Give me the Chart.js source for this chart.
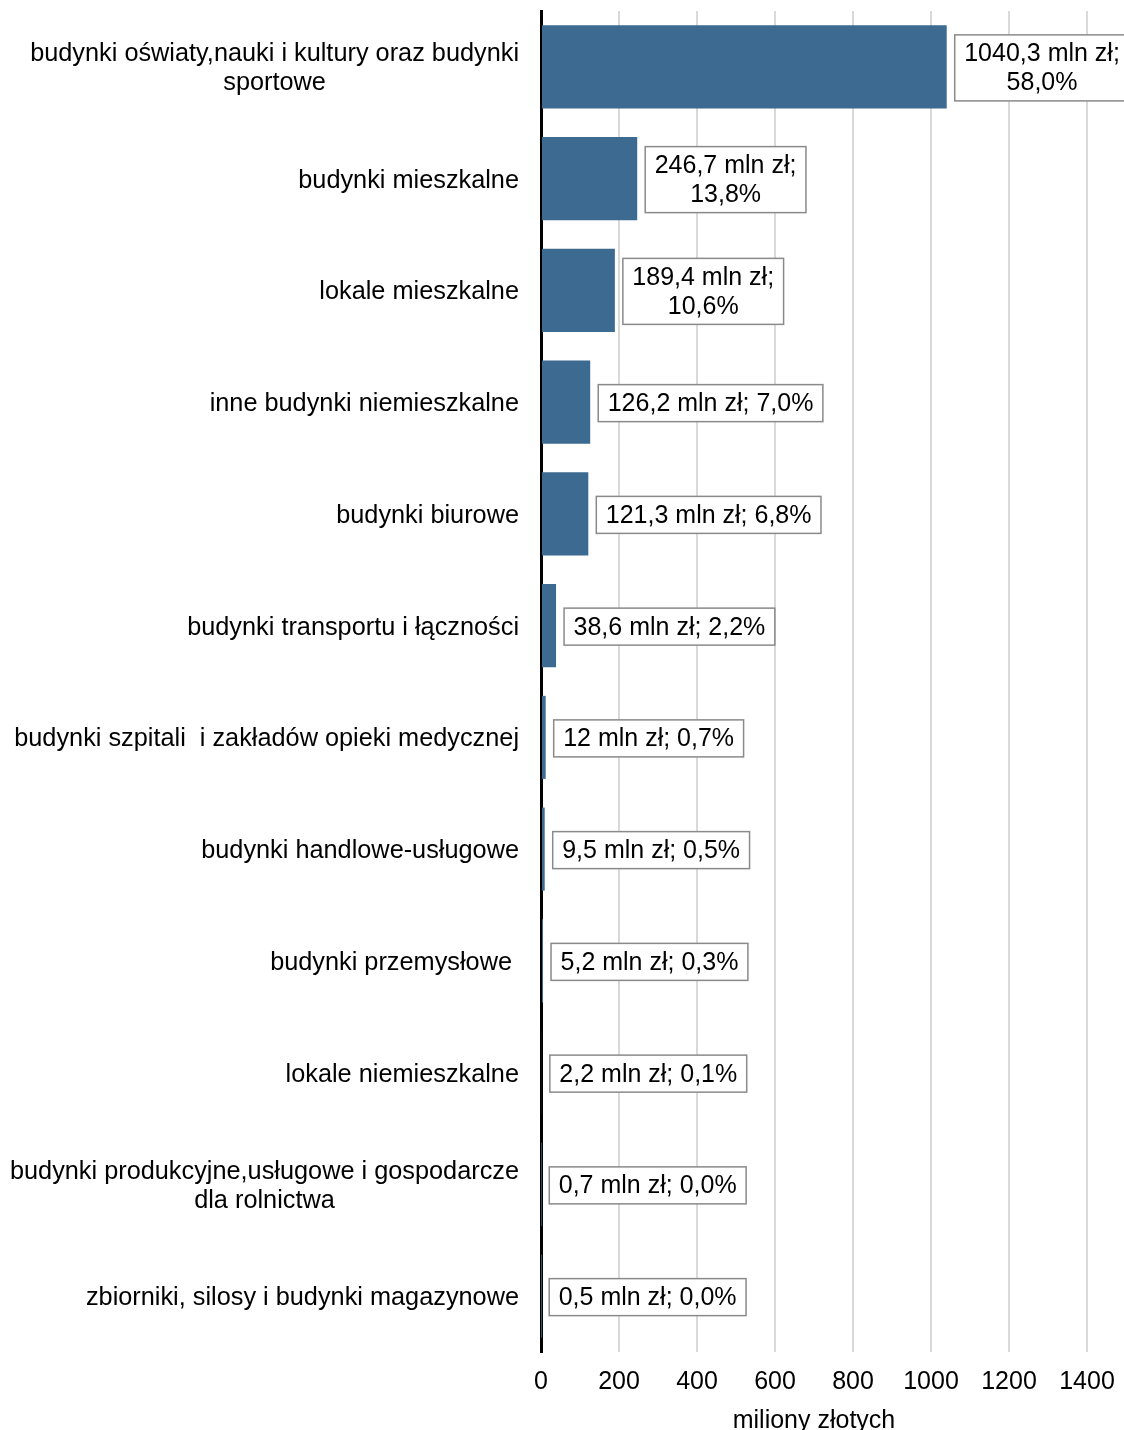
<!DOCTYPE html>
<html lang="pl">
<head>
<meta charset="utf-8">
<script src="https://cdn.jsdelivr.net/npm/chart.js@4.4.1/dist/chart.umd.min.js"></script>
<style>
  body { margin: 0; background: #fff; }
  #wrap { width: 1124px; height: 1430px; }
</style>
</head>
<body>
<div id="wrap"><canvas id="buildingsChart" width="1124" height="1430"></canvas></div>
<script>
const categories = [
    ['budynki oświaty,nauki i kultury oraz budynki', 'sportowe'],
    'budynki mieszkalne',
    'lokale mieszkalne',
    'inne budynki niemieszkalne',
    'budynki biurowe',
    'budynki transportu i łączności',
    'budynki szpitali  i zakładów opieki medycznej',
    'budynki handlowe-usługowe',
    'budynki przemysłowe ',
    'lokale niemieszkalne',
    ['budynki produkcyjne,usługowe i gospodarcze', 'dla rolnictwa'],
    'zbiorniki, silosy i budynki magazynowe'
];
const values = [1040.3, 246.7, 189.4, 126.2, 121.3, 38.6, 12, 9.5, 5.2, 2.2, 0.7, 0.5];
const shares = [58.0, 13.8, 10.6, 7.0, 6.8, 2.2, 0.7, 0.5, 0.3, 0.1, 0.0, 0.0];
const xTicks = [0, 200, 400, 600, 800, 1000, 1200, 1400];

const FONT = "'Liberation Sans', Arial, sans-serif";
const LINE_H = 29;

function labelLines(i) {
    const val = String(values[i]).replace('.', ',') + ' mln zł;';
    const pct = shares[i].toFixed(1).replace('.', ',') + '%';
    // trzy pierwsze etykiety sa zawiniete w dwie linie
    return i < 3 ? [val, pct] : [val + ' ' + pct];
}

// etykiety kategorii: blok wyrownany do prawej, linie wysrodkowane
const categoryLabels = {
    id: 'categoryLabels',
    afterDraw(chart) {
        const ctx = chart.ctx;
        const y = chart.scales.y;
        ctx.save();
        ctx.font = '25.3px ' + FONT;
        ctx.fillStyle = '#000';
        ctx.textAlign = 'center';
        ctx.textBaseline = 'middle';
        categories.forEach((c, i) => {
            const lines = Array.isArray(c) ? c : [c];
            const w = Math.max(...lines.map(l => ctx.measureText(l).width));
            const cx = 519 - w / 2;
            const cy = y.getPixelForTick(i) + 2;
            lines.forEach((l, k) => {
                ctx.fillText(l, cx, cy + (k - (lines.length - 1) / 2) * LINE_H);
            });
        });
        ctx.restore();
    }
};

// etykiety wartosci w ramkach
const valueBoxes = {
    id: 'valueBoxes',
    afterDatasetsDraw(chart) {
        const ctx = chart.ctx;
        const meta = chart.getDatasetMeta(0);
        ctx.save();
        ctx.font = '25px ' + FONT;
        ctx.textAlign = 'center';
        ctx.textBaseline = 'middle';
        meta.data.forEach((bar, i) => {
            const lines = labelLines(i);
            const w = Math.max(...lines.map(l => ctx.measureText(l).width)) + 19;
            const h = lines.length * LINE_H + 8;
            const x0 = bar.x + 8;
            const y0 = bar.y - h / 2 + 1;
            ctx.fillStyle = '#fff';
            ctx.fillRect(x0, y0, w, h);
            ctx.strokeStyle = '#8a8a8a';
            ctx.lineWidth = 1.5;
            ctx.strokeRect(x0, y0, w, h);
            ctx.fillStyle = '#000';
            lines.forEach((l, k) => {
                ctx.fillText(l, x0 + w / 2, bar.y + (k - (lines.length - 1) / 2) * LINE_H + 2);
            });
        });
        ctx.restore();
    }
};

const ctx = document.getElementById('buildingsChart').getContext('2d');
new Chart(ctx, {
    type: 'bar',
    data: {
        labels: categories,
        datasets: [{
            data: values,
            backgroundColor: '#3d6a91',
            borderWidth: 0,
            barPercentage: 0.743,
            categoryPercentage: 1
        }]
    },
    options: {
        indexAxis: 'y',
        responsive: false,
        animation: false,
        layout: { padding: { top: 11, right: 37, left: 0, bottom: 0 } },
        scales: {
            x: {
                min: 0,
                max: 1400,
                afterBuildTicks: function (scale) {
                    scale.ticks = xTicks.map(v => ({ value: v }));
                },
                afterFit: function (scale) {
                    scale.height = 78;
                    scale.paddingLeft = 0;
                    scale.paddingRight = 0;
                },
                grid: { color: '#d9d9d9', lineWidth: 2, drawTicks: false },
                border: { display: false },
                ticks: {
                    padding: 15,
                    color: '#000',
                    font: { size: 25, family: FONT },
                    callback: function (value) {
                        return String(value);
                    }
                },
                title: {
                    display: true,
                    text: 'miliony złotych',
                    color: '#000',
                    font: { size: 25, family: FONT, lineHeight: 1 },
                    padding: { top: 9, bottom: -4 }
                }
            },
            y: {
                z: 1,
                afterFit: function (scale) {
                    scale.width = 541;
                },
                grid: { display: false, drawTicks: false },
                border: { display: true, color: '#000', width: 3 },
                ticks: { display: false }
            }
        },
        plugins: {
            legend: { display: false },
            tooltip: { enabled: false }
        }
    },
    plugins: [categoryLabels, valueBoxes]
});
</script>
</body>
</html>
